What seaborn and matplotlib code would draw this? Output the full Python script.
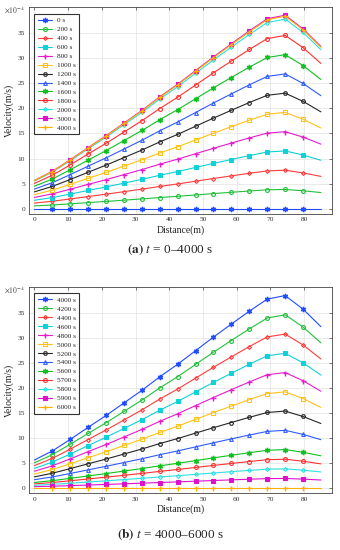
import numpy as np; import pandas as pd; import matplotlib
matplotlib.use("Agg")
import matplotlib.pyplot as plt; import seaborn as sns

# distance grid (m); markers sit on every interior point
distance = [0, 5.3, 10.6, 15.9, 21.3, 26.6, 31.9, 37.2, 42.5, 47.8, 53.1, 58.4, 63.8, 69.1, 74.4, 79.7, 85]

# velocity profiles (x 1e-4 m/s)
v_zero = [0]*17
v_005 = [0.28, 0.37, 0.49, 0.61, 0.73, 0.85, 0.98, 1.11, 1.24, 1.37, 1.51, 1.64, 1.77, 1.89, 1.92, 1.79, 1.61]
v_010 = [0.56, 0.74, 0.97, 1.21, 1.45, 1.70, 1.95, 2.22, 2.47, 2.74, 3.01, 3.27, 3.53, 3.77, 3.84, 3.57, 3.22]
v_015 = [0.84, 1.11, 1.46, 1.82, 2.18, 2.55, 2.93, 3.33, 3.71, 4.11, 4.52, 4.91, 5.30, 5.66, 5.76, 5.36, 4.83]
v_020 = [1.12, 1.48, 1.94, 2.42, 2.90, 3.40, 3.90, 4.44, 4.94, 5.48, 6.02, 6.54, 7.06, 7.54, 7.68, 7.14, 6.44]
v_030 = [1.68, 2.22, 2.91, 3.63, 4.35, 5.10, 5.85, 6.66, 7.41, 8.22, 9.03, 9.81, 10.59, 11.31, 11.52, 10.71, 9.66]
v_040 = [2.24, 2.96, 3.88, 4.84, 5.80, 6.80, 7.80, 8.88, 9.88, 10.96, 12.04, 13.08, 14.12, 15.08, 15.36, 14.28, 12.88]
v_050 = [2.80, 3.70, 4.85, 6.05, 7.25, 8.50, 9.75, 11.10, 12.35, 13.70, 15.05, 16.35, 17.65, 18.85, 19.20, 17.85, 16.10]
v_060 = [3.36, 4.44, 5.82, 7.26, 8.70, 10.20, 11.70, 13.32, 14.82, 16.44, 18.06, 19.62, 21.18, 22.62, 23.04, 21.42, 19.32]
v_070 = [3.92, 5.18, 6.79, 8.47, 10.15, 11.90, 13.65, 15.54, 17.29, 19.18, 21.07, 22.89, 24.71, 26.39, 26.88, 24.99, 22.54]
v_080 = [4.48, 5.92, 7.76, 9.68, 11.60, 13.60, 15.60, 17.76, 19.76, 21.92, 24.08, 26.16, 28.24, 30.16, 30.72, 28.56, 25.76]
v_090 = [5.04, 6.66, 8.73, 10.89, 13.05, 15.30, 17.55, 19.98, 22.23, 24.66, 27.09, 29.43, 31.77, 33.93, 34.56, 32.13, 28.98]
v_2000 = [5.52, 7.29, 9.55, 11.92, 14.28, 16.75, 19.21, 21.87, 24.33, 26.99, 29.65, 32.21, 34.77, 37.13, 37.82, 35.16, 31.72]
v_3000 = [5.63, 7.44, 9.75, 12.16, 14.57, 17.09, 19.60, 22.31, 24.82, 27.54, 30.25, 32.86, 35.48, 37.89, 38.59, 35.88, 32.36]
v_4000 = [5.60, 7.40, 9.70, 12.10, 14.50, 17.00, 19.50, 22.20, 24.70, 27.40, 30.10, 32.70, 35.30, 37.70, 38.40, 35.70, 32.20]

labels_a = ["0 s", "200 s", "400 s", "600 s", "800 s", "1000 s", "1200 s", "1400 s",
            "1600 s", "1800 s", "2000 s", "3000 s", "4000 s"]
series_a = [v_zero, v_010, v_020, v_030, v_040, v_050, v_060, v_070, v_080, v_090, v_2000, v_3000, v_4000]
labels_b = ["4000 s", "4200 s", "4400 s", "4600 s", "4800 s", "5000 s", "5200 s", "5400 s",
            "5600 s", "5700 s", "5800 s", "5900 s", "6000 s"]
series_b = [v_4000, v_090, v_080, v_070, v_060, v_050, v_040, v_030, v_020, v_015, v_010, v_005, v_zero]

# MATLAB-like style cycle: (colour, marker, filled)
asterisk = (6, 2, 0)
styles = [("#1f4cff", asterisk, True), ("#22c03a", "o", False), ("#ff3b3b", "D", False),
          ("#10d0d8", "s", True), ("#e61ccf", "+", True), ("#ffc21a", "s", False),
          ("#262626", "H", False), ("#2f5bff", "^", False), ("#10c020", asterisk, True),
          ("#ff3030", "o", False), ("#2ee0e0", "D", False), ("#dd11cc", "s", True),
          ("#ffb000", "+", True)]
msizes = {"o": 2.8, "D": 2.0, "s": 2.3, "+": 3.6, "H": 2.9, "^": 2.7, asterisk: 3.8}

sns.set_theme(style="whitegrid")
plt.rcParams["font.family"] = ["Liberation Serif", "DejaVu Serif"]
plt.rcParams["mathtext.fontset"] = "stix"

fig = plt.figure(figsize=(3.4, 5.5), dpi=100)
ax_a = fig.add_axes([0.0844, 0.611, 0.892, 0.376])
ax_b = fig.add_axes([0.0844, 0.103, 0.892, 0.376])

def draw_panel(ax, labels, series):
    for lab, vals, (c, m, filled) in zip(labels, series, styles):
        df = pd.DataFrame({"Distance": distance, "Velocity": vals})
        sns.lineplot(data=df, x="Distance", y="Velocity", ax=ax, color=c, lw=0.8,
                     marker=m, markersize=msizes[m], markevery=list(range(1, 16)),
                     markerfacecolor=c if filled else "none", markeredgecolor=c,
                     markeredgewidth=1.0 if m in ("+", asterisk) else 0.8, label=lab)
    ax.set_xlim(-1.7, 88.3); ax.set_ylim(-1.05, 40.2)
    ax.set_xticks(range(0, 81, 10)); ax.set_yticks(range(0, 36, 5))
    ax.set_facecolor("white")
    ax.grid(True, color="#e2e2e2", lw=0.5)
    for s in ax.spines.values():
        s.set_visible(True); s.set_color("#444444"); s.set_linewidth(0.6)
    ax.tick_params(direction="in", top=True, right=True, length=2.5, width=0.5,
                   labelsize=5.3, colors="#444444", pad=2.5)
    ax.tick_params(labelcolor="#333333")
    ax.set_xlabel("Distance(m)", fontsize=7, labelpad=2, color="#222222")
    ax.set_ylabel("Velocity(m/s)", fontsize=7, labelpad=3, color="#222222")
    ax.text(-0.012, 0.987, r"$\times10^{-4}$", transform=ax.transAxes, ha="right",
            va="center", fontsize=5.5, color="#444444")
    leg = ax.legend(loc="upper left", bbox_to_anchor=(0.018, 0.968), borderaxespad=0,
                    fontsize=5.2, frameon=True, fancybox=False, framealpha=1,
                    handlelength=2.0, handletextpad=0.6, labelspacing=0.40,
                    borderpad=0.5)
    leg.get_frame().set_edgecolor("#333333"); leg.get_frame().set_linewidth(0.8)

draw_panel(ax_a, labels_a, series_a)
draw_panel(ax_b, labels_b, series_b)

fig.text(0.5, 1 - 250/550, r"$\mathbf{(a)}$ $\it{t}$ = 0–4000 s", ha="center", va="center", fontsize=9.5)
fig.text(0.5, 1 - 535/550, r"$\mathbf{(b)}$ $\it{t}$ = 4000–6000 s", ha="center", va="center", fontsize=9.5)

fig.savefig("out.png", dpi=100)
